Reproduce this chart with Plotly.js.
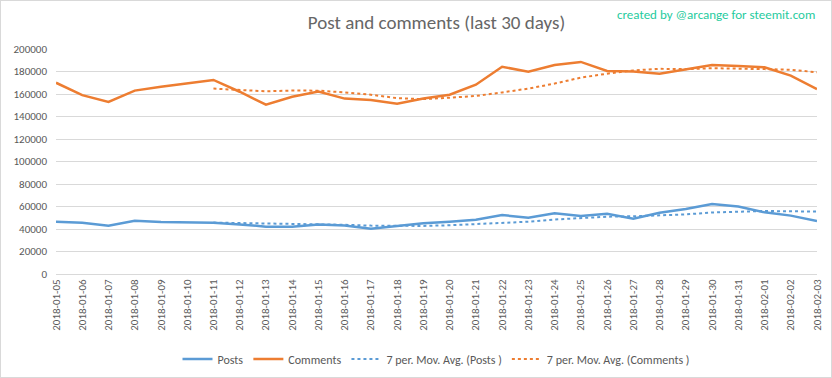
<!DOCTYPE html>
<html>
<head>
<meta charset="utf-8">
<script src="https://cdn.plot.ly/plotly-3.0.1.min.js"></script>
<style>
html,body{margin:0;padding:0;background:#fff;}
#wrap{position:relative;width:832px;height:378px;}
#chart{width:832px;height:378px;}
#frame{position:absolute;left:0;top:0;width:830px;height:376px;border:1px solid #d9d9d9;pointer-events:none;}
</style>
</head>
<body>
<div id="wrap"><div id="chart"></div><div id="frame"></div></div>
<script>
const dates = ["2018-01-05","2018-01-06","2018-01-07","2018-01-08","2018-01-09","2018-01-10","2018-01-11","2018-01-12","2018-01-13","2018-01-14","2018-01-15","2018-01-16","2018-01-17","2018-01-18","2018-01-19","2018-01-20","2018-01-21","2018-01-22","2018-01-23","2018-01-24","2018-01-25","2018-01-26","2018-01-27","2018-01-28","2018-01-29","2018-01-30","2018-01-31","2018-02-01","2018-02-02","2018-02-03"];
const posts = [46500,45600,43000,47400,46200,45600,45600,44100,42100,42000,43900,43000,40300,42700,45000,46500,48300,52400,50100,54000,51600,53600,49200,54500,57800,62200,59900,54800,51900,47100];
const comments = [170000,159000,153000,163000,166500,169500,172500,162000,150500,157600,162100,155900,154700,151400,156000,159300,168300,184200,179800,185800,188500,180400,179900,178100,182000,185800,184900,183700,176300,164400];
const postsAvg = [null,null,null,null,null,null,45700,45357,44857,44714,44214,43757,43000,42586,42714,43343,44243,45457,46471,48429,49700,50929,51314,52200,52971,54700,55543,56000,55757,55457];
const commentsAvg = [null,null,null,null,null,null,164786,163643,162429,163086,162957,161443,159329,156314,155457,156714,158243,161400,164814,169257,174557,178043,180986,182386,182071,182929,182800,182114,181529,179314];
const seriesNames = ["Posts","Comments","7 per. Mov. Avg. (Posts )","7 per. Mov. Avg. (Comments )"];

const FONT = "Calibri, Carlito, 'Liberation Sans Narrow', 'Open Sans', sans-serif";
const BLUE = "#5B9BD5", ORANGE = "#ED7D31";

const traces = [
  {x: dates, y: posts, name: seriesNames[0], type: "scatter", mode: "lines", line: {color: BLUE, width: 2.5}},
  {x: dates, y: comments, name: seriesNames[1], type: "scatter", mode: "lines", line: {color: ORANGE, width: 2.5}},
  {x: dates, y: postsAvg, name: seriesNames[2], type: "scatter", mode: "lines", line: {color: BLUE, width: 2, dash: "dot"}},
  {x: dates, y: commentsAvg, name: seriesNames[3], type: "scatter", mode: "lines", line: {color: ORANGE, width: 2, dash: "dot"}}
];

const layout = {
  width: 832, height: 378,
  margin: {l: 56, r: 15, t: 49, b: 104, autoexpand: false},
  paper_bgcolor: "#fff", plot_bgcolor: "#fff",
  font: {family: FONT, color: "#595959", size: 11},
  title: {text: "Post and comments (last 30 days)", font: {family: FONT, size: 19, color: "#666666", weight: 300}, x: 0.5, xref: "paper", xanchor: "center", y: 0.94, yref: "container", yanchor: "middle"},
  showlegend: true,
  legend: {orientation: "h", x: 0.5, xanchor: "center", xref: "paper", y: 19/378, yref: "container", yanchor: "middle", font: {family: FONT, size: 12, color: "#595959"}, itemwidth: 30},
  xaxis: {type: "category", showgrid: false, showline: true, linecolor: "#d9d9d9", linewidth: 1, tickangle: -90, ticks: "", tickfont: {family: FONT, size: 11, color: "#595959"}, zeroline: false, fixedrange: true, automargin: false},
  yaxis: {range: [0, 200000], dtick: 20000, tickformat: "d", showgrid: true, gridcolor: "#d9d9d9", gridwidth: 1, zeroline: false, showline: false, ticks: "", ticklabelstandoff: 8, tickfont: {family: FONT, size: 11, color: "#595959"}, fixedrange: true, automargin: false},
  annotations: [{text: "created by @arcange for steemit.com", xref: "paper", yref: "paper", x: 1, xanchor: "right", y: 1 + 34/225, yanchor: "middle", showarrow: false, font: {family: FONT, size: 13, color: "#1FCB9E"}}]
};

Plotly.newPlot("chart", traces, layout, {displayModeBar: false, staticPlot: true});
</script>
</body>
</html>
